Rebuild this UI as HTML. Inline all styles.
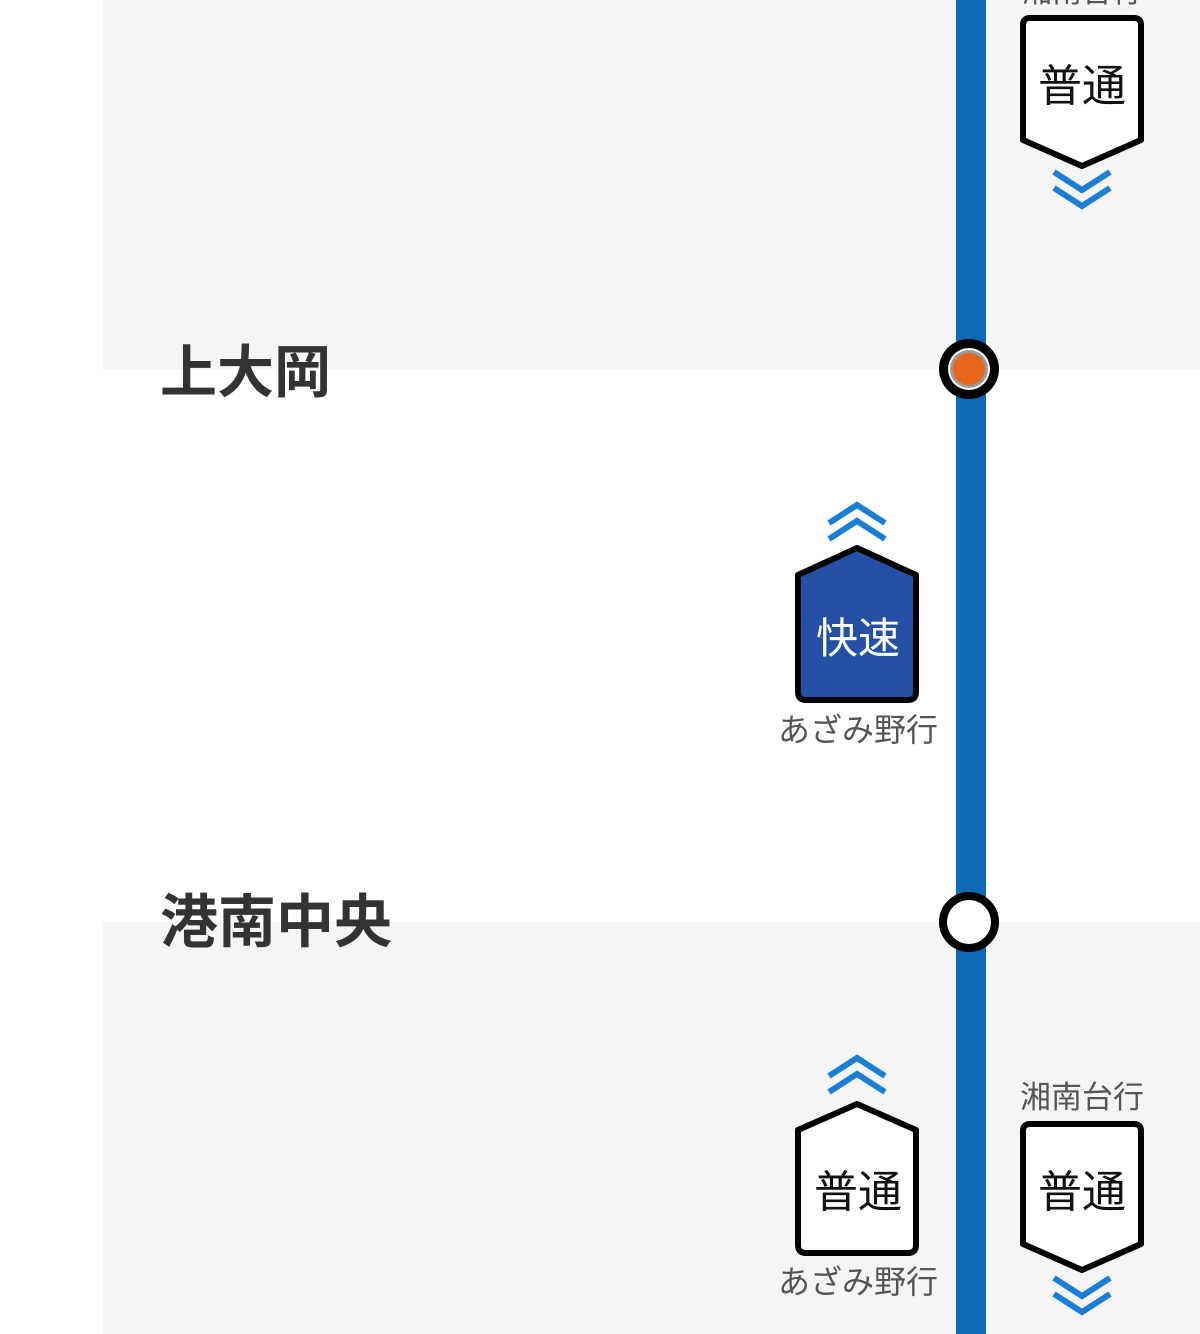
<!DOCTYPE html>
<html><head><meta charset="utf-8"><style>
html,body{margin:0;padding:0;background:#fff;}
svg{display:block}
text{font-family:"Liberation Sans","Noto Sans CJK JP",sans-serif;}
</style></head><body>
<svg width="1200" height="1334" viewBox="0 0 1200 1334" xmlns="http://www.w3.org/2000/svg">
<rect x="0" y="0" width="1200" height="1334" fill="#fff"/>
<rect x="103" y="0" width="1097" height="369" fill="#f5f5f5"/>
<rect x="103" y="922" width="1097" height="412" fill="#f5f5f5"/>
<rect x="956" y="0" width="30" height="1334" fill="#0f69b5"/>

<text x="160" y="392" font-size="57" font-weight="bold" fill="#333">上大岡</text>
<text x="160" y="942" font-size="58" font-weight="bold" fill="#333">港南中央</text>

<circle cx="969" cy="369" r="30" fill="#000"/>
<circle cx="969" cy="369" r="21" fill="#fff"/>
<circle cx="969" cy="369" r="19" fill="#999"/>
<circle cx="969" cy="369" r="16" fill="#e8661c"/>
<circle cx="969" cy="922" r="26" fill="#fff" stroke="#000" stroke-width="8"/>

<text x="1082" y="2" font-size="30" fill="#555" text-anchor="middle">湘南台行</text>
<path d="M1030 18 H1134 Q1141 18 1141 25 V140 L1082 166 L1023 140 V25 Q1023 18 1030 18 Z" fill="#fff" stroke="#000" stroke-width="6" stroke-linejoin="round"/>
<text x="1082" y="101" font-size="44" fill="#111" text-anchor="middle">普通</text>
<path d="M1054 172 L1082 190 L1110 172 M1054 188 L1082 206 L1110 188" fill="none" stroke="#1a7fd4" stroke-width="6"/>

<path d="M829 523 L857 505 L885 523 M829 539 L857 521 L885 539" fill="none" stroke="#1a7fd4" stroke-width="6"/>
<path d="M857 548 L916 575 V692 Q916 700 908 700 H806 Q798 700 798 692 V575 Z" fill="#2451a6" stroke="#000" stroke-width="6" stroke-linejoin="round"/>
<text x="858" y="653" font-size="42" fill="#fff" text-anchor="middle">快速</text>
<text x="858" y="741" font-size="32" fill="#555" text-anchor="middle">あざみ野行</text>

<path d="M829 1076 L857 1058 L885 1076 M829 1092 L857 1074 L885 1092" fill="none" stroke="#1a7fd4" stroke-width="6"/>
<path d="M857 1104 L916 1130 V1245 Q916 1253 908 1253 H806 Q798 1253 798 1245 V1130 Z" fill="#fff" stroke="#000" stroke-width="6" stroke-linejoin="round"/>
<text x="858" y="1207" font-size="44" fill="#111" text-anchor="middle">普通</text>
<text x="858" y="1293" font-size="32" fill="#555" text-anchor="middle">あざみ野行</text>

<text x="1082" y="1108" font-size="31" fill="#555" text-anchor="middle">湘南台行</text>
<path d="M1030 1124 H1134 Q1141 1124 1141 1131 V1244 L1082 1270 L1023 1244 V1131 Q1023 1124 1030 1124 Z" fill="#fff" stroke="#000" stroke-width="6" stroke-linejoin="round"/>
<text x="1082" y="1207" font-size="44" fill="#111" text-anchor="middle">普通</text>
<path d="M1054 1278 L1082 1296 L1110 1278 M1054 1294 L1082 1312 L1110 1294" fill="none" stroke="#1a7fd4" stroke-width="6"/>
</svg>
</body></html>
